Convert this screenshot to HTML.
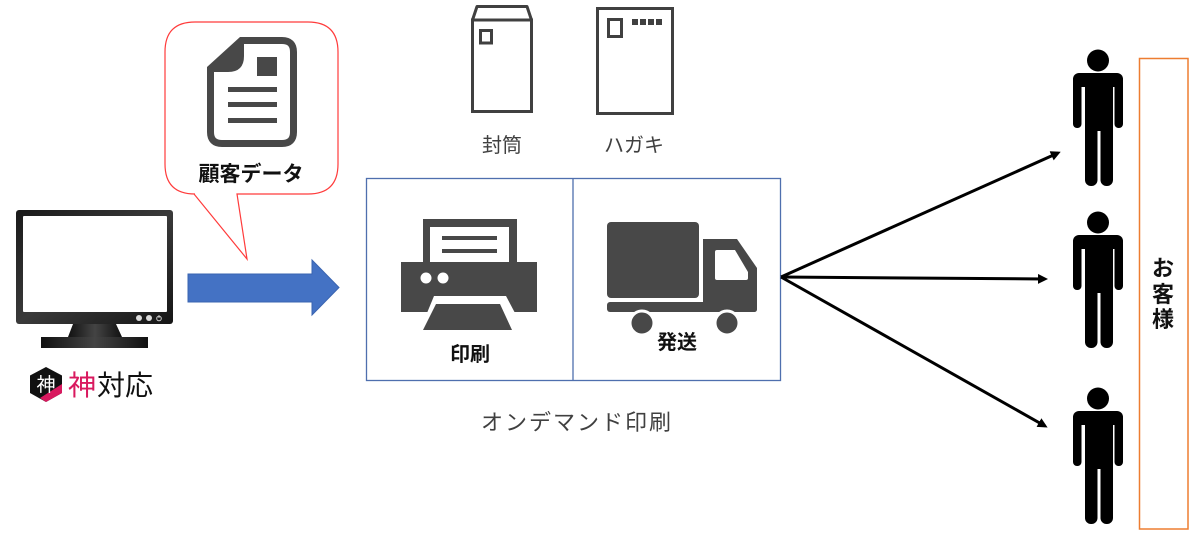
<!DOCTYPE html>
<html><head><meta charset="utf-8"><style>
html,body{margin:0;padding:0;background:#fff;}
svg{display:block;}
text{font-family:"Liberation Sans","Noto Sans CJK JP",sans-serif;}
</style></head><body>
<svg width="1200" height="558" viewBox="0 0 1200 558" xmlns="http://www.w3.org/2000/svg">
<defs>
<linearGradient id="mon" x1="0" y1="0" x2="1" y2="1">
<stop offset="0" stop-color="#1a1a1a"/><stop offset="0.5" stop-color="#3a3a3a"/><stop offset="1" stop-color="#151515"/>
</linearGradient>
<linearGradient id="stand" x1="0" y1="0" x2="1" y2="0">
<stop offset="0" stop-color="#111"/><stop offset="0.5" stop-color="#444"/><stop offset="1" stop-color="#111"/>
</linearGradient>
<marker id="ah" markerWidth="10" markerHeight="10" refX="7" refY="5" orient="auto" markerUnits="userSpaceOnUse" viewBox="0 0 10 10">
<path d="M0,0 L10,5 L0,10 Z" fill="#000"/>
</marker>
</defs>

<!-- callout -->
<path d="M195,22 L308,22 Q338,22 338,52 L338,164 Q338,194 308,194 L237,194 L247,259 L194,194 L195,194 Q165,194 165,164 L165,52 Q165,22 195,22 Z" fill="#fff" stroke="#ff3b3b" stroke-width="1.2"/>
<!-- document icon -->
<path d="M241,40.5 L282,40.5 Q293.5,40.5 293.5,52 L293.5,132 Q293.5,143.5 282,143.5 L222,143.5 Q210.5,143.5 210.5,132 L210.5,69" fill="none" stroke="#484848" stroke-width="7"/>
<path d="M240,37 L244,37 L244,56 Q244,72 228,72 L207,72 L207,67 Z" fill="#484848"/>
<rect x="257" y="57" width="20" height="19" fill="#484848"/>
<rect x="228" y="87" width="49" height="5" fill="#484848"/>
<rect x="228" y="102" width="49" height="5" fill="#484848"/>
<rect x="228" y="118" width="49" height="5" fill="#484848"/>
<text x="251" y="181" font-size="21" font-weight="bold" text-anchor="middle" fill="#111">顧客データ</text>

<!-- monitor -->
<rect x="16" y="210" width="157" height="114" rx="3" fill="url(#mon)"/>
<rect x="23" y="216" width="144" height="96" rx="1" fill="#fff"/>
<circle cx="139" cy="318" r="3" fill="#ddd"/>
<circle cx="149" cy="318" r="3" fill="#ddd"/>
<circle cx="159" cy="318.5" r="2.3" fill="none" stroke="#ccc" stroke-width="1"/>
<line x1="159" y1="315" x2="159" y2="318" stroke="#ccc" stroke-width="1"/>
<polygon points="73,324 116,324 122,337 68,337" fill="url(#stand)"/>
<rect x="41" y="337" width="107" height="11" fill="url(#stand)"/>

<!-- logo -->
<polygon points="46,367 62,375.5 62,393 46,402 30,393 30,375.5" fill="#111"/>
<polygon points="62,384 62,393 46,402 40,398" fill="#d9195f"/>
<text x="46" y="391" font-size="19" text-anchor="middle" fill="#fff">神</text>
<text x="68" y="395" font-size="28" fill="#d9195f">神</text>
<text x="97" y="395" font-size="28" fill="#111">対応</text>

<!-- blue arrow -->
<polygon points="188,274 312,274 312,260 339,287.5 312,315 312,302 188,302" fill="#4472c4" stroke="#3a64b0" stroke-width="1"/>

<!-- envelope -->
<polygon points="472.5,20 477,6.5 527,6.5 531.5,20" fill="none" stroke="#404040" stroke-width="3" stroke-linejoin="round"/>
<rect x="472.5" y="20" width="59" height="91.5" fill="none" stroke="#404040" stroke-width="3"/>
<rect x="480.5" y="30.5" width="11" height="12.5" fill="none" stroke="#404040" stroke-width="3"/>
<text x="502" y="152" font-size="20" text-anchor="middle" fill="#404040">封筒</text>

<!-- postcard -->
<rect x="597.5" y="8.5" width="75" height="105" fill="none" stroke="#404040" stroke-width="3"/>
<rect x="608.5" y="19.5" width="13" height="17" fill="none" stroke="#404040" stroke-width="3"/>
<rect x="632" y="19" width="6" height="6" fill="#404040"/>
<rect x="640" y="19" width="6" height="6" fill="#404040"/>
<rect x="648" y="19" width="6" height="6" fill="#404040"/>
<rect x="656" y="19" width="6" height="6" fill="#404040"/>
<text x="634" y="152" font-size="20" text-anchor="middle" fill="#404040">ハガキ</text>

<!-- box -->
<rect x="366.5" y="178.5" width="414" height="202" fill="none" stroke="#4f6fae" stroke-width="1.3"/>
<line x1="573" y1="178.5" x2="573" y2="380.5" stroke="#4f6fae" stroke-width="1.3"/>

<!-- printer -->
<rect x="423" y="219" width="94" height="45" fill="#484848"/>
<rect x="430" y="227" width="79" height="40" fill="#fff"/>
<rect x="442" y="236" width="55" height="4" fill="#484848"/>
<rect x="442" y="249" width="55" height="4" fill="#484848"/>
<rect x="401" y="262" width="136" height="50" fill="#484848"/>
<circle cx="426" cy="278" r="5.5" fill="#fff"/>
<circle cx="443" cy="278" r="5.5" fill="#fff"/>
<polygon points="427,313 434,296 506,296 515,313" fill="#fff"/>
<polygon points="436,304 500,304 512,330 423,330" fill="#484848"/>
<text x="470" y="361" font-size="20" font-weight="bold" text-anchor="middle" fill="#111">印刷</text>

<!-- truck -->
<rect x="607" y="222" width="92" height="76" rx="4" fill="#484848"/>
<path d="M703,239 L737,239 L757,268 L757,309 Q757,312 754,312 L703,312 Z" fill="#484848"/>
<path d="M715,252 Q715,250 717,250 L735,250 L748,272 L748,278 Q748,280 746,280 L717,280 Q715,280 715,278 Z" fill="#fff"/>
<rect x="607" y="302" width="150" height="10" rx="3" fill="#484848"/>
<circle cx="642" cy="323" r="12" fill="#484848" stroke="#fff" stroke-width="3"/>
<circle cx="727" cy="323" r="12" fill="#484848" stroke="#fff" stroke-width="3"/>
<text x="677" y="349" font-size="20" font-weight="bold" text-anchor="middle" fill="#111">発送</text>

<text x="577" y="430" font-size="22" letter-spacing="2" text-anchor="middle" fill="#404040">オンデマンド印刷</text>

<!-- black arrows -->
<line x1="781" y1="277" x2="1058" y2="153" stroke="#000" stroke-width="3" marker-end="url(#ah)"/>
<line x1="781" y1="277" x2="1045" y2="279" stroke="#000" stroke-width="3" marker-end="url(#ah)"/>
<line x1="781" y1="277" x2="1045" y2="426" stroke="#000" stroke-width="3" marker-end="url(#ah)"/>

<!-- persons -->
<g id="p1" fill="#000">
<circle cx="1098" cy="60.5" r="11"/>
<rect x="1073" y="73" width="50" height="14" rx="6"/>
<rect x="1073" y="78" width="8.5" height="50" rx="4"/>
<rect x="1114.5" y="78" width="8.5" height="50" rx="4"/>
<rect x="1085" y="73" width="28" height="58"/>
<rect x="1085" y="120" width="12.5" height="66" rx="6"/>
<rect x="1100.5" y="120" width="12.5" height="66" rx="6"/>
</g>
<g transform="translate(0,162)" fill="#000">
<circle cx="1098" cy="60.5" r="11"/>
<rect x="1073" y="73" width="50" height="14" rx="6"/>
<rect x="1073" y="78" width="8.5" height="50" rx="4"/>
<rect x="1114.5" y="78" width="8.5" height="50" rx="4"/>
<rect x="1085" y="73" width="28" height="58"/>
<rect x="1085" y="120" width="12.5" height="66" rx="6"/>
<rect x="1100.5" y="120" width="12.5" height="66" rx="6"/>
</g>
<g transform="translate(0,338)" fill="#000">
<circle cx="1098" cy="60.5" r="11"/>
<rect x="1073" y="73" width="50" height="14" rx="6"/>
<rect x="1073" y="78" width="8.5" height="50" rx="4"/>
<rect x="1114.5" y="78" width="8.5" height="50" rx="4"/>
<rect x="1085" y="73" width="28" height="58"/>
<rect x="1085" y="120" width="12.5" height="66" rx="6"/>
<rect x="1100.5" y="120" width="12.5" height="66" rx="6"/>
</g>

<!-- customer box -->
<rect x="1139.5" y="58.5" width="48.5" height="470.5" fill="#fff" stroke="#ed7d31" stroke-width="1.5"/>
<text x="1163" y="276" font-size="22" font-weight="bold" text-anchor="middle" fill="#111">お</text>
<text x="1163" y="302" font-size="22" font-weight="bold" text-anchor="middle" fill="#111">客</text>
<text x="1163" y="327" font-size="22" font-weight="bold" text-anchor="middle" fill="#111">様</text>
</svg>
</body></html>
